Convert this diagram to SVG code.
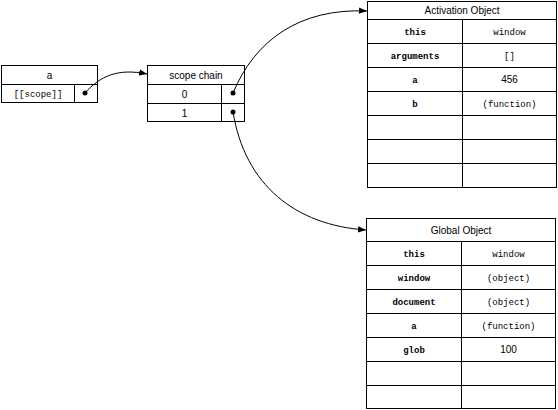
<svg xmlns="http://www.w3.org/2000/svg" width="558" height="410" viewBox="0 0 558 410">
<style>
.box{fill:#fff;stroke:#000;stroke-width:1}
.ln{stroke:#000;stroke-width:1;fill:none}
.hd{font-family:"Liberation Sans",Arial,sans-serif;font-size:10px;text-anchor:middle;fill:#000}
.k{font-family:"Liberation Mono","Courier New",monospace;font-size:9px;font-weight:bold;text-anchor:middle;fill:#000}
.v{font-family:"Liberation Mono","Courier New",monospace;font-size:9px;text-anchor:middle;fill:#000}
.n{font-family:"Liberation Sans",Arial,sans-serif;font-size:10px;text-anchor:middle;fill:#000}
.dot{fill:#000}
.conn{stroke:#000;stroke-width:1;fill:none;marker-end:url(#ah)}
</style>
<defs>
<marker id="ah" viewBox="0 0 10 10" refX="10" refY="5" markerWidth="8" markerHeight="8" markerUnits="userSpaceOnUse" orient="auto">
<path d="M0,1 L10,5 L0,9 z" fill="#000"/>
</marker>
</defs>
<rect width="558" height="410" fill="#fff"/>
<g id="node-a">
<rect class="box" x="1.5" y="65.5" width="96" height="37"/>
<line class="ln" x1="1.5" y1="84.5" x2="97.5" y2="84.5"/>
<line class="ln" x1="74.5" y1="84.5" x2="74.5" y2="102.5"/>
<text class="hd" x="49.5" y="78.5">a</text>
<text class="v" x="38" y="97">[[scope]]</text>
<circle class="dot" cx="85" cy="93" r="2.5"/>
</g>
<g id="node-scope-chain">
<rect class="box" x="147.5" y="65.5" width="97" height="56"/>
<line class="ln" x1="147.5" y1="84.5" x2="244.5" y2="84.5"/>
<line class="ln" x1="147.5" y1="103.5" x2="244.5" y2="103.5"/>
<line class="ln" x1="221.5" y1="84.5" x2="221.5" y2="121.5"/>
<text class="hd" x="196" y="78.5">scope chain</text>
<text class="n" x="184.5" y="97.5">0</text>
<text class="n" x="184.5" y="116.5">1</text>
<circle class="dot" cx="233" cy="93" r="2.5"/>
<circle class="dot" cx="233" cy="112" r="2.5"/>
</g>
<g id="node-activation-object">
<rect class="box" x="367.5" y="1.5" width="189" height="186"/>
<g class="ln">
<line x1="367.5" y1="19.5" x2="556.5" y2="19.5"/>
<line x1="367.5" y1="43.5" x2="556.5" y2="43.5"/>
<line x1="367.5" y1="67.5" x2="556.5" y2="67.5"/>
<line x1="367.5" y1="91.5" x2="556.5" y2="91.5"/>
<line x1="367.5" y1="115.5" x2="556.5" y2="115.5"/>
<line x1="367.5" y1="139.5" x2="556.5" y2="139.5"/>
<line x1="367.5" y1="163.5" x2="556.5" y2="163.5"/>
<line x1="462.5" y1="19.5" x2="462.5" y2="187.5"/>
</g>
<text class="hd" x="462" y="14">Activation Object</text>
<text class="k" x="415" y="35">this</text>
<text class="v" x="509.5" y="35">window</text>
<text class="k" x="415" y="59">arguments</text>
<text class="v" x="509.5" y="59">[]</text>
<text class="k" x="415" y="83">a</text>
<text class="n" x="509.5" y="83">456</text>
<text class="k" x="415" y="107">b</text>
<text class="v" x="509.5" y="107">(function)</text>
</g>
<g id="node-global-object">
<rect class="box" x="366.5" y="218.5" width="189" height="190"/>
<g class="ln">
<line x1="366.5" y1="241.5" x2="555.5" y2="241.5"/>
<line x1="366.5" y1="265.5" x2="555.5" y2="265.5"/>
<line x1="366.5" y1="289.5" x2="555.5" y2="289.5"/>
<line x1="366.5" y1="313.5" x2="555.5" y2="313.5"/>
<line x1="366.5" y1="337.5" x2="555.5" y2="337.5"/>
<line x1="366.5" y1="361.5" x2="555.5" y2="361.5"/>
<line x1="366.5" y1="385.5" x2="555.5" y2="385.5"/>
<line x1="461.5" y1="241.5" x2="461.5" y2="408.5"/>
</g>
<text class="hd" x="461" y="233.5">Global Object</text>
<text class="k" x="414" y="257">this</text>
<text class="v" x="508.5" y="257">window</text>
<text class="k" x="414" y="281">window</text>
<text class="v" x="508.5" y="281">(object)</text>
<text class="k" x="414" y="305">document</text>
<text class="v" x="508.5" y="305">(object)</text>
<text class="k" x="414" y="329">a</text>
<text class="v" x="508.5" y="329">(function)</text>
<text class="k" x="414" y="353">glob</text>
<text class="n" x="508.5" y="353">100</text>
</g>
<g id="connectors">
<path class="conn" d="M85,93 C100,76 118,68 147,74"/>
<path class="conn" d="M233,93 C255,40 300,8 367,11"/>
<path class="conn" d="M233,112 C245,185 295,225 366,230"/>
</g>
</svg>
